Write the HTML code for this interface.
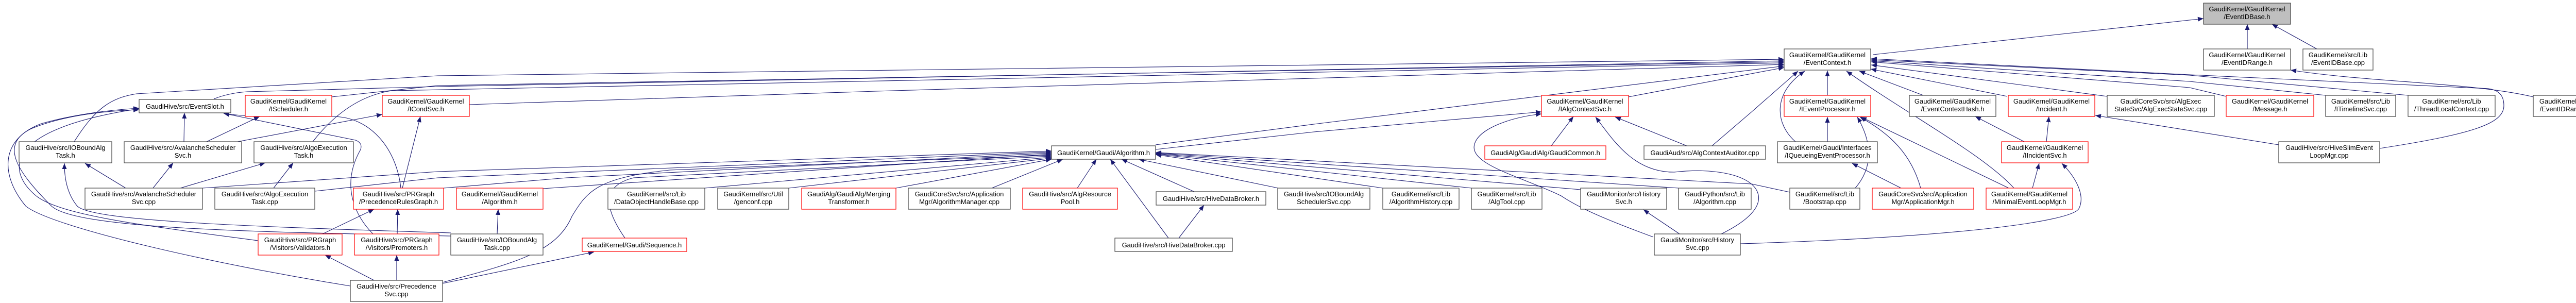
<!DOCTYPE html>
<html><head><meta charset="utf-8"><style>
html,body{margin:0;padding:0;background:#fff;}
svg{display:block;}
text{font-family:"Liberation Sans",sans-serif;font-size:13px;fill:#000;text-anchor:middle;}
.e{fill:none;stroke:#191970;stroke-width:1.1;marker-end:url(#a);}
.n{fill:#fff;stroke:#404040;stroke-width:1.2;}
.r{fill:#fff;stroke:#ff0000;stroke-width:1.2;}
.g{fill:#bfbfbf;stroke:#404040;stroke-width:1.2;}
</style></head><body>
<svg width="5060" height="588" viewBox="0 0 5060 588" xmlns="http://www.w3.org/2000/svg">
<defs><marker id="a" viewBox="0 0 11 9" refX="11" refY="4.5" markerWidth="11" markerHeight="9" markerUnits="userSpaceOnUse" orient="auto"><path d="M0,0L11,4.5L0,9z" fill="#191970"/></marker></defs>
<g>
<!-- to EventContext -->
<path class="e" d="M144,275 C185,210 215,190 265,182 L850,147 L3463,115"/>
<path class="e" d="M415,192 C430,186 450,180 480,178 L850,168 L3463,118"/>
<path class="e" d="M644,188 L850,166 L3463,120"/>
<path class="e" d="M607,275 C650,220 700,185 760,176 L3463,122"/>
<path class="e" d="M911,203 L1700,177 L3463,125"/>
<path class="e" d="M2243,281 L2550,241 L3463,128"/>
<path class="e" d="M3161,188 L3463,131"/>
<path class="e" d="M3323,283 L3400,217 L3490,138"/>
<path class="e" d="M3485,275 C3445,240 3440,180 3503,138"/>
<path class="e" d="M3547,185 L3547,137"/>
<path class="e" d="M3733,185 L3609,138"/>
<path class="e" d="M3896,187 L3631,134"/>
<path class="e" d="M4090,187 L3632,126"/>
<path class="e" d="M3909,365 C3850,300 3700,220 3584,138"/>
<path class="e" d="M4321,187 L4250,170 L3632,120"/>
<path class="e" d="M4514,185 L4250,158 L3632,118"/>
<path class="e" d="M4674,185 L4250,146 L3632,116"/>
<path class="e" d="M4619,288 C4800,260 4860,240 4860,205 C4860,185 4850,175 4830,172 L4250,145 L3632,114"/>
<path class="e" d="M3636,106 L4277,36"/>
<path class="e" d="M4362,95 L4362,47"/>
<path class="e" d="M4497,95 L4410,47"/>
<path class="e" d="M4917,188 C4800,160 4600,160 4446,136"/>
<!-- IEventProcessor -->
<path class="e" d="M3547,275 L3547,227"/>
<path class="e" d="M3601,365 C3640,320 3630,270 3605,227"/>
<path class="e" d="M3728,365 C3710,300 3670,260 3610,227"/>
<path class="e" d="M3899,365 L3612,227"/>
<path class="e" d="M3690,365 L3595,317"/>
<!-- IIncidentSvc / Incident / Hash -->
<path class="e" d="M3945,365 L3958,317"/>
<path class="e" d="M3378,473 C3800,460 4020,430 4035,405 C4048,380 4030,345 4002,317"/>
<path class="e" d="M3929,275 L3834,226"/>
<path class="e" d="M3972,275 L3977,226"/>
<path class="e" d="M4423,281 L4067,224"/>
<!-- IAlgContextSvc -->
<path class="e" d="M3011,283 L3054,226"/>
<path class="e" d="M3274,283 L3135,227"/>
<path class="e" d="M2243,290 L2550,256 L2992,217"/>
<path class="e" d="M3209,460 C3100,420 3060,400 3030,380 C2960,345 2850,320 2862,280 C2870,250 2930,228 2992,221"/>
<path class="e" d="M3341,454 C3390,430 3425,400 3410,370 C3395,340 3330,325 3250,334 C3170,335 3130,270 3097,227"/>
<path class="e" d="M3260,454 L3190,407"/>
<!-- Gaudi/Algorithm.h -->
<path class="e" d="M393,365 L850,333 L2041,293"/>
<path class="e" d="M611,371 L850,345 L2041,295"/>
<path class="e" d="M861,365 L1100,345 L2041,297"/>
<path class="e" d="M1054,366 L2041,299"/>
<path class="e" d="M859,548 C1000,510 1080,490 1110,420 C1140,370 1160,345 1300,330 L2041,301"/>
<path class="e" d="M1213,462 C1170,400 1170,360 1230,345 L2041,303"/>
<path class="e" d="M1368,365 L2041,305"/>
<path class="e" d="M1531,365 L2041,307"/>
<path class="e" d="M1739,365 L2041,309"/>
<path class="e" d="M1925,365 L2063,309"/>
<path class="e" d="M2091,365 L2128,309"/>
<path class="e" d="M2268,462 L2155,309"/>
<path class="e" d="M2318,372 L2177,309"/>
<path class="e" d="M2481,365 L2210,309"/>
<path class="e" d="M2684,365 L2243,300"/>
<path class="e" d="M2856,365 L2243,299"/>
<path class="e" d="M3068,368 L2243,298"/>
<path class="e" d="M3258,365 L2243,297"/>
<path class="e" d="M3474,373 L3400,357 L2243,296"/>
<path class="e" d="M2288,462 L2337,398"/>
<!-- left cluster -->
<path class="e" d="M357,275 L358,219"/>
<path class="e" d="M401,275 L504,226"/>
<path class="e" d="M461,275 L742,222"/>
<path class="e" d="M781,365 L816,226"/>
<path class="e" d="M724,454 C690,420 660,360 700,290 C703,280 698,275 690,272 L434,220"/>
<path class="e" d="M778,365 C770,290 720,226 645,226 C560,226 480,228 434,220"/>
<path class="e" d="M875,458 C500,450 150,445 100,400 C30,330 0,280 60,250 C120,225 200,215 270,213"/>
<path class="e" d="M501,467 C300,440 120,420 70,380 C10,330 10,250 270,211"/>
<path class="e" d="M680,555 C400,510 100,440 50,400 C0,340 0,270 80,240 C150,220 220,213 270,210"/>
<path class="e" d="M875,452 C500,440 180,430 150,400 C125,370 125,330 125,317"/>
<path class="e" d="M244,365 L165,317"/>
<path class="e" d="M297,365 L336,316"/>
<path class="e" d="M350,365 L515,316"/>
<path class="e" d="M531,365 L569,316"/>
<path class="e" d="M626,454 L726,406"/>
<path class="e" d="M771,454 L772,406"/>
<path class="e" d="M726,544 L631,495"/>
<path class="e" d="M770,544 L770,495"/>
<path class="e" d="M859,550 L1153,489"/>
<path class="e" d="M965,454 L967,406"/>
</g>
<g>
<rect class="g" x="4277" y="6" width="169" height="41"/><text x="4361.5" y="22">GaudiKernel/GaudiKernel</text><text x="4361.5" y="37">/EventIDBase.h</text>
<rect class="n" x="3463" y="95" width="168" height="41"/><text x="3547" y="111">GaudiKernel/GaudiKernel</text><text x="3547" y="126">/EventContext.h</text>
<rect class="n" x="4277" y="95" width="169" height="41"/><text x="4361.5" y="111">GaudiKernel/GaudiKernel</text><text x="4361.5" y="126">/EventIDRange.h</text>
<rect class="n" x="4470" y="95" width="136" height="41"/><text x="4538" y="111">GaudiKernel/src/Lib</text><text x="4538" y="126">/EventIDBase.cpp</text>
<rect class="n" x="270" y="193" width="178" height="26"/><text x="359" y="211">GaudiHive/src/EventSlot.h</text>
<rect class="r" x="476" y="185" width="168" height="41"/><text x="560" y="201">GaudiKernel/GaudiKernel</text><text x="560" y="216">/IScheduler.h</text>
<rect class="r" x="742" y="185" width="169" height="41"/><text x="826.5" y="201">GaudiKernel/GaudiKernel</text><text x="826.5" y="216">/ICondSvc.h</text>
<rect class="r" x="2992" y="185" width="169" height="41"/><text x="3076.5" y="201">GaudiKernel/GaudiKernel</text><text x="3076.5" y="216">/IAlgContextSvc.h</text>
<rect class="r" x="3463" y="185" width="168" height="41"/><text x="3547" y="201">GaudiKernel/GaudiKernel</text><text x="3547" y="216">/IEventProcessor.h</text>
<rect class="n" x="3706" y="185" width="168" height="41"/><text x="3790" y="201">GaudiKernel/GaudiKernel</text><text x="3790" y="216">/EventContextHash.h</text>
<rect class="r" x="3898" y="185" width="168" height="41"/><text x="3982" y="201">GaudiKernel/GaudiKernel</text><text x="3982" y="216">/Incident.h</text>
<rect class="n" x="4090" y="185" width="208" height="41"/><text x="4194" y="201">GaudiCoreSvc/src/AlgExec</text><text x="4194" y="216">StateSvc/AlgExecStateSvc.cpp</text>
<rect class="r" x="4321" y="185" width="170" height="41"/><text x="4406" y="201">GaudiKernel/GaudiKernel</text><text x="4406" y="216">/Message.h</text>
<rect class="n" x="4514" y="185" width="136" height="41"/><text x="4582" y="201">GaudiKernel/src/Lib</text><text x="4582" y="216">/ITimelineSvc.cpp</text>
<rect class="n" x="4674" y="185" width="169" height="41"/><text x="4758.5" y="201">GaudiKernel/src/Lib</text><text x="4758.5" y="216">/ThreadLocalContext.cpp</text>
<rect class="n" x="4917" y="185" width="138" height="41"/><text x="4986" y="201">GaudiKernel/src/Lib</text><text x="4986" y="216">/EventIDRange.cpp</text>
<rect class="n" x="37" y="275" width="180" height="41"/><text x="127" y="291">GaudiHive/src/IOBoundAlg</text><text x="127" y="306">Task.h</text>
<rect class="n" x="241" y="275" width="228" height="41"/><text x="355" y="291">GaudiHive/src/AvalancheScheduler</text><text x="355" y="306">Svc.h</text>
<rect class="n" x="493" y="275" width="193" height="41"/><text x="589.5" y="291">GaudiHive/src/AlgoExecution</text><text x="589.5" y="306">Task.h</text>
<rect class="n" x="2041" y="283" width="202" height="26"/><text x="2142" y="301">GaudiKernel/Gaudi/Algorithm.h</text>
<rect class="r" x="2882" y="283" width="235" height="26"/><text x="2999.5" y="301">GaudiAlg/GaudiAlg/GaudiCommon.h</text>
<rect class="n" x="3191" y="283" width="236" height="26"/><text x="3309" y="301">GaudiAud/src/AlgContextAuditor.cpp</text>
<rect class="n" x="3450" y="275" width="194" height="41"/><text x="3547" y="291">GaudiKernel/Gaudi/Interfaces</text><text x="3547" y="306">/IQueueingEventProcessor.h</text>
<rect class="r" x="3885" y="275" width="168" height="41"/><text x="3969" y="291">GaudiKernel/GaudiKernel</text><text x="3969" y="306">/IIncidentSvc.h</text>
<rect class="n" x="4423" y="275" width="196" height="41"/><text x="4521" y="291">GaudiHive/src/HiveSlimEvent</text><text x="4521" y="306">LoopMgr.cpp</text>
<rect class="n" x="165" y="365" width="228" height="41"/><text x="279" y="381">GaudiHive/src/AvalancheScheduler</text><text x="279" y="396">Svc.cpp</text>
<rect class="n" x="417" y="365" width="194" height="41"/><text x="514" y="381">GaudiHive/src/AlgoExecution</text><text x="514" y="396">Task.cpp</text>
<rect class="r" x="686" y="365" width="175" height="41"/><text x="773.5" y="381">GaudiHive/src/PRGraph</text><text x="773.5" y="396">/PrecedenceRulesGraph.h</text>
<rect class="r" x="886" y="365" width="168" height="41"/><text x="970" y="381">GaudiKernel/GaudiKernel</text><text x="970" y="396">/Algorithm.h</text>
<rect class="n" x="1180" y="365" width="188" height="41"/><text x="1274" y="381">GaudiKernel/src/Lib</text><text x="1274" y="396">/DataObjectHandleBase.cpp</text>
<rect class="n" x="1393" y="365" width="138" height="41"/><text x="1462" y="381">GaudiKernel/src/Util</text><text x="1462" y="396">/genconf.cpp</text>
<rect class="r" x="1556" y="365" width="183" height="41"/><text x="1647.5" y="381">GaudiAlg/GaudiAlg/Merging</text><text x="1647.5" y="396">Transformer.h</text>
<rect class="n" x="1763" y="365" width="198" height="41"/><text x="1862" y="381">GaudiCoreSvc/src/Application</text><text x="1862" y="396">Mgr/AlgorithmManager.cpp</text>
<rect class="r" x="1985" y="365" width="184" height="41"/><text x="2077" y="381">GaudiHive/src/AlgResource</text><text x="2077" y="396">Pool.h</text>
<rect class="n" x="2244" y="372" width="213" height="26"/><text x="2350.5" y="390">GaudiHive/src/HiveDataBroker.h</text>
<rect class="n" x="2480" y="365" width="179" height="41"/><text x="2569.5" y="381">GaudiHive/src/IOBoundAlg</text><text x="2569.5" y="396">SchedulerSvc.cpp</text>
<rect class="n" x="2684" y="365" width="148" height="41"/><text x="2758" y="381">GaudiKernel/src/Lib</text><text x="2758" y="396">/AlgorithmHistory.cpp</text>
<rect class="n" x="2856" y="365" width="137" height="41"/><text x="2924.5" y="381">GaudiKernel/src/Lib</text><text x="2924.5" y="396">/AlgTool.cpp</text>
<rect class="n" x="3068" y="365" width="167" height="41"/><text x="3151.5" y="381">GaudiMonitor/src/History</text><text x="3151.5" y="396">Svc.h</text>
<rect class="n" x="3258" y="365" width="141" height="41"/><text x="3328.5" y="381">GaudiPython/src/Lib</text><text x="3328.5" y="396">/Algorithm.cpp</text>
<rect class="n" x="3474" y="365" width="136" height="41"/><text x="3542" y="381">GaudiKernel/src/Lib</text><text x="3542" y="396">/Bootstrap.cpp</text>
<rect class="r" x="3634" y="365" width="197" height="41"/><text x="3732.5" y="381">GaudiCoreSvc/src/Application</text><text x="3732.5" y="396">Mgr/ApplicationMgr.h</text>
<rect class="r" x="3855" y="365" width="168" height="41"/><text x="3939" y="381">GaudiKernel/GaudiKernel</text><text x="3939" y="396">/MinimalEventLoopMgr.h</text>
<rect class="r" x="501" y="454" width="163" height="41"/><text x="582.5" y="470">GaudiHive/src/PRGraph</text><text x="582.5" y="485">/Visitors/Validators.h</text>
<rect class="r" x="688" y="454" width="164" height="41"/><text x="770" y="470">GaudiHive/src/PRGraph</text><text x="770" y="485">/Visitors/Promoters.h</text>
<rect class="n" x="875" y="454" width="179" height="41"/><text x="964.5" y="470">GaudiHive/src/IOBoundAlg</text><text x="964.5" y="485">Task.cpp</text>
<rect class="r" x="1130" y="462" width="203" height="26"/><text x="1231.5" y="480">GaudiKernel/Gaudi/Sequence.h</text>
<rect class="n" x="2164" y="462" width="228" height="26"/><text x="2278" y="480">GaudiHive/src/HiveDataBroker.cpp</text>
<rect class="n" x="3211" y="454" width="167" height="41"/><text x="3294.5" y="470">GaudiMonitor/src/History</text><text x="3294.5" y="485">Svc.cpp</text>
<rect class="n" x="680" y="544" width="179" height="41"/><text x="769.5" y="560">GaudiHive/src/Precedence</text><text x="769.5" y="575">Svc.cpp</text>
</g>
</svg>
</body></html>
